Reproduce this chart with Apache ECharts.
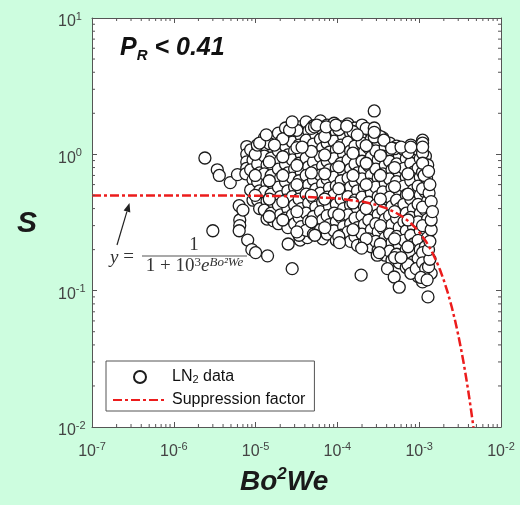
<!DOCTYPE html>
<html>
<head>
<meta charset="utf-8">
<script src="https://cdn.jsdelivr.net/npm/echarts@6/dist/echarts.min.js"></script>
<style>
  html, body { margin: 0; padding: 0; background: #cdfddf; }
  #chart { width: 520px; height: 505px; }
</style>
</head>
<body>
<div id="chart"></div>
<script>
// LN2 measurements: [Bo^2 We, S]
const ln2Points = [
  // sparse points on the low Bo²We side
  [2.4e-6,0.94],[3.0e-6,0.275],[3.4e-6,0.77],[3.6e-6,0.70],[4.9e-6,0.62],[6.0e-6,0.71],
  [6.3e-6,0.42],[6.4e-6,0.33],[6.4e-6,0.30],[6.3e-6,0.275],[7.0e-6,0.39],
  [7.8e-6,1.14],[7.8e-6,1.0],[7.8e-6,0.88],[7.8e-6,0.79],[7.6e-6,0.72],
  [8.0e-6,0.235],[9.0e-6,0.20],[1.0e-5,0.19],[1.4e-5,0.18],[2.8e-5,0.145],[2.5e-5,0.22],[3.5e-5,0.235],[4.3e-5,0.245],
  // main cloud
  [8.7e-6,1.08],[9.3e-6,0.91],[8.7e-6,0.77],[9.3e-6,0.65],[8.7e-6,0.547],[9.3e-6,0.461],
  [1.06e-5,1.15],[1.12e-5,0.99],[1.06e-5,0.85],[1.12e-5,0.73],[1.06e-5,0.63],[1.12e-5,0.54],[1.06e-5,0.46],[1.12e-5,0.40],
  [1.28e-5,1.32],[1.38e-5,1.12],[1.28e-5,0.97],[1.38e-5,0.835],[1.28e-5,0.72],[1.38e-5,0.61],[1.28e-5,0.53],[1.38e-5,0.455],[1.28e-5,0.39],[1.38e-5,0.335],
  [1.55e-5,1.27],[1.66e-5,1.10],[1.55e-5,0.94],[1.66e-5,0.81],[1.55e-5,0.70],[1.66e-5,0.595],[1.55e-5,0.51],[1.66e-5,0.44],[1.55e-5,0.37],[1.66e-5,0.325],
  [1.9e-5,1.43],[2.02e-5,1.23],[1.9e-5,1.06],[2.02e-5,0.91],[1.9e-5,0.78],[2.02e-5,0.67],[1.9e-5,0.575],[2.02e-5,0.49],[1.9e-5,0.424],[2.02e-5,0.36],[1.9e-5,0.31],
  [2.32e-5,1.56],[2.48e-5,1.35],[2.32e-5,1.15],[2.48e-5,0.99],[2.32e-5,0.85],[2.48e-5,0.73],[2.32e-5,0.63],[2.48e-5,0.54],[2.32e-5,0.461],[2.48e-5,0.40],[2.32e-5,0.34],[2.48e-5,0.29],
  [2.82e-5,1.67],[3.0e-5,1.43],[2.82e-5,1.23],[3.0e-5,1.06],[2.82e-5,0.91],[3.0e-5,0.78],[2.82e-5,0.67],[3.0e-5,0.575],[2.82e-5,0.49],[3.0e-5,0.424],[2.82e-5,0.36],[3.0e-5,0.31],
  [3.4e-5,1.59],[3.62e-5,1.36],[3.4e-5,1.17],[3.62e-5,1.0],[3.4e-5,0.86],[3.62e-5,0.74],[3.4e-5,0.64],[3.62e-5,0.547],[3.4e-5,0.47],[3.62e-5,0.40],[3.4e-5,0.345],[3.62e-5,0.295],[3.4e-5,0.255],
  [4.15e-5,1.73],[4.45e-5,1.48],[4.15e-5,1.27],[4.45e-5,1.10],[4.15e-5,0.94],[4.45e-5,0.81],[4.15e-5,0.70],[4.45e-5,0.595],[4.15e-5,0.51],[4.45e-5,0.44],[4.15e-5,0.37],[4.45e-5,0.325],[4.15e-5,0.277],
  [5.1e-5,1.62],[5.45e-5,1.39],[5.1e-5,1.19],[5.45e-5,1.02],[5.1e-5,0.88],[5.45e-5,0.76],[5.1e-5,0.65],[5.45e-5,0.555],[5.1e-5,0.475],[5.45e-5,0.41],[5.1e-5,0.35],[5.45e-5,0.30],[5.1e-5,0.26],
  [6.2e-5,1.76],[6.6e-5,1.51],[6.2e-5,1.29],[6.6e-5,1.11],[6.2e-5,0.96],[6.6e-5,0.82],[6.2e-5,0.705],[6.6e-5,0.605],[6.2e-5,0.52],[6.6e-5,0.445],[6.2e-5,0.38],[6.6e-5,0.33],[6.2e-5,0.28],[6.6e-5,0.24],
  [7.5e-5,1.64],[8.0e-5,1.41],[7.5e-5,1.21],[8.0e-5,1.04],[7.5e-5,0.89],[8.0e-5,0.77],[7.5e-5,0.66],[8.0e-5,0.565],[7.5e-5,0.485],[8.0e-5,0.415],[7.5e-5,0.355],[8.0e-5,0.305],[7.5e-5,0.26],
  [9.1e-5,1.69],[9.7e-5,1.46],[9.1e-5,1.25],[9.7e-5,1.08],[9.1e-5,0.93],[9.7e-5,0.79],[9.1e-5,0.68],[9.7e-5,0.585],[9.1e-5,0.503],[9.7e-5,0.43],[9.1e-5,0.37],[9.7e-5,0.32],[9.1e-5,0.275],[9.7e-5,0.234],
  [1.11e-4,1.59],[1.19e-4,1.36],[1.11e-4,1.17],[1.19e-4,1.0],[1.11e-4,0.86],[1.19e-4,0.74],[1.11e-4,0.64],[1.19e-4,0.547],[1.11e-4,0.47],[1.19e-4,0.40],[1.11e-4,0.345],[1.19e-4,0.295],[1.11e-4,0.255],
  [1.35e-4,1.67],[1.45e-4,1.43],[1.35e-4,1.23],[1.45e-4,1.06],[1.35e-4,0.91],[1.45e-4,0.78],[1.35e-4,0.67],[1.45e-4,0.575],[1.35e-4,0.49],[1.45e-4,0.424],[1.35e-4,0.36],[1.45e-4,0.31],[1.35e-4,0.27],[1.45e-4,0.23],
  [1.64e-4,1.56],[1.76e-4,1.35],[1.64e-4,1.15],[1.76e-4,0.99],[1.64e-4,0.85],[1.76e-4,0.73],[1.64e-4,0.63],[1.76e-4,0.54],[1.64e-4,0.461],[1.76e-4,0.40],[1.64e-4,0.34],[1.76e-4,0.29],[1.64e-4,0.25],[1.76e-4,0.215],
  [2.0e-4,1.64],[2.14e-4,1.41],[2.0e-4,1.21],[2.14e-4,1.04],[2.0e-4,0.89],[2.14e-4,0.77],[2.0e-4,0.66],[2.14e-4,0.565],[2.0e-4,0.485],[2.14e-4,0.415],[2.0e-4,0.355],[2.14e-4,0.305],[2.0e-4,0.26],[2.14e-4,0.225],
  [2.42e-4,1.51],[2.6e-4,1.29],[2.42e-4,1.11],[2.6e-4,0.96],[2.42e-4,0.82],[2.6e-4,0.705],[2.42e-4,0.605],[2.6e-4,0.52],[2.42e-4,0.445],[2.6e-4,0.38],[2.42e-4,0.33],[2.6e-4,0.28],[2.42e-4,0.24],[2.6e-4,0.21],
  [2.95e-4,1.43],[3.15e-4,1.23],[2.95e-4,1.06],[3.15e-4,0.91],[2.95e-4,0.78],[3.15e-4,0.67],[2.95e-4,0.575],[3.15e-4,0.49],[2.95e-4,0.424],[3.15e-4,0.36],[2.95e-4,0.31],[3.15e-4,0.27],[2.95e-4,0.23],[3.15e-4,0.198],
  [3.6e-4,1.32],[3.85e-4,1.12],[3.6e-4,0.97],[3.85e-4,0.835],[3.6e-4,0.72],[3.85e-4,0.61],[3.6e-4,0.53],[3.85e-4,0.455],[3.6e-4,0.39],[3.85e-4,0.335],[3.6e-4,0.285],[3.85e-4,0.245],[3.6e-4,0.21],[3.85e-4,0.182],
  [4.35e-4,1.21],[4.65e-4,1.04],[4.35e-4,0.89],[4.65e-4,0.77],[4.35e-4,0.66],[4.65e-4,0.565],[4.35e-4,0.485],[4.65e-4,0.415],[4.35e-4,0.355],[4.65e-4,0.305],[4.35e-4,0.26],[4.65e-4,0.225],[4.35e-4,0.195],[4.65e-4,0.167],
  [5.3e-4,1.15],[5.7e-4,0.99],[5.3e-4,0.85],[5.7e-4,0.73],[5.3e-4,0.63],[5.7e-4,0.54],[5.3e-4,0.461],[5.7e-4,0.40],[5.3e-4,0.34],[5.7e-4,0.29],[5.3e-4,0.25],[5.7e-4,0.215],[5.3e-4,0.185],[5.7e-4,0.16],
  [6.5e-4,1.08],[6.95e-4,0.93],[6.5e-4,0.79],[6.95e-4,0.68],[6.5e-4,0.585],[6.95e-4,0.503],[6.5e-4,0.43],[6.95e-4,0.37],[6.5e-4,0.32],[6.95e-4,0.275],[6.5e-4,0.234],[6.95e-4,0.20],[6.5e-4,0.172],[6.95e-4,0.148],
  [7.9e-4,1.17],[8.5e-4,1.0],[7.9e-4,0.86],[8.5e-4,0.74],[7.9e-4,0.64],[8.5e-4,0.547],[7.9e-4,0.47],[8.5e-4,0.40],[7.9e-4,0.345],[8.5e-4,0.295],[7.9e-4,0.255],[8.5e-4,0.22],[7.9e-4,0.19],[8.5e-4,0.163],[7.9e-4,0.139],
  [9.7e-4,1.08],[1.03e-3,0.93],[9.7e-4,0.79],[1.03e-3,0.68],[9.7e-4,0.585],[1.03e-3,0.503],[9.7e-4,0.43],[1.03e-3,0.37],[9.7e-4,0.32],[1.03e-3,0.275],[9.7e-4,0.234],[1.03e-3,0.20],[9.7e-4,0.172],[1.03e-3,0.148],[9.7e-4,0.127],
  [1.19e-3,0.97],[1.27e-3,0.835],[1.19e-3,0.72],[1.27e-3,0.61],[1.19e-3,0.53],[1.27e-3,0.455],[1.19e-3,0.39],[1.27e-3,0.335],[1.19e-3,0.285],[1.27e-3,0.245],[1.19e-3,0.21],[1.27e-3,0.182],[1.19e-3,0.157],[1.27e-3,0.134],
  // points lying between the columns above
  [9.9e-6,1.0],[9.9e-6,0.70],[9.9e-6,0.50],
  [1.47e-5,1.20],[1.47e-5,0.88],[1.47e-5,0.64],[1.47e-5,0.47],[1.47e-5,0.35],
  [2.15e-5,1.30],[2.15e-5,0.96],[2.15e-5,0.70],[2.15e-5,0.45],[2.15e-5,0.33],
  [3.2e-5,1.50],[3.2e-5,1.12],[3.2e-5,0.83],[3.2e-5,0.60],[3.2e-5,0.38],[3.2e-5,0.27],
  [4.8e-5,1.55],[4.8e-5,1.05],[4.8e-5,0.73],[4.8e-5,0.50],[4.8e-5,0.32],
  [7.0e-5,1.35],[7.0e-5,0.99],[7.0e-5,0.72],[7.0e-5,0.47],[7.0e-5,0.29],
  [1.04e-4,1.52],[1.04e-4,1.12],[1.04e-4,0.81],[1.04e-4,0.56],[1.04e-4,0.36],[1.04e-4,0.25],
  [1.55e-4,1.47],[1.55e-4,1.02],[1.55e-4,0.70],[1.55e-4,0.44],[1.55e-4,0.28],
  [2.25e-4,1.55],[2.25e-4,1.16],[2.25e-4,0.86],[2.25e-4,0.60],[2.25e-4,0.40],[2.25e-4,0.24],
  [3.35e-4,1.35],[3.35e-4,0.98],[3.35e-4,0.70],[3.35e-4,0.47],[3.35e-4,0.30],[3.35e-4,0.22],
  [5.0e-4,1.10],[5.0e-4,0.80],[5.0e-4,0.58],[5.0e-4,0.38],[5.0e-4,0.24],[5.0e-4,0.175],
  [7.3e-4,1.03],[7.3e-4,0.72],[7.3e-4,0.51],[7.3e-4,0.33],[7.3e-4,0.21],[7.3e-4,0.155],
  [1.1e-3,1.02],[1.1e-3,0.74],[1.1e-3,0.56],[1.1e-3,0.41],[1.1e-3,0.30],[1.1e-3,0.19],[1.1e-3,0.14],
  // upper and right edge
  [1.05e-5,1.17],[1.12e-5,1.21],[1.35e-5,1.39],[1.70e-5,1.17],[2.6e-5,1.51],[2.8e-5,1.73],[3.7e-5,1.13],[5.25e-5,1.59],
  [5.6e-5,1.64],[7.3e-5,1.59],[9.6e-5,1.64],[1.3e-4,1.61],[1.75e-4,1.39],[2.82e-4,1.56],[2.82e-4,1.34],[2.82e-4,1.45],
  [3.7e-4,1.27],[4.6e-4,1.11],[6.0e-4,1.13],[7.9e-4,1.13],[1.1e-3,1.27],[1.1e-3,1.21],[1.1e-3,1.13],[1.1e-3,0.86],
  [1.23e-3,0.67],[1.32e-3,0.52],[1.4e-3,0.45],[1.15e-3,0.70],[1.35e-3,0.60],[1.3e-3,0.75],[2.82e-4,2.08],
  // lower tail
  [1.95e-4,0.13],[3.07e-4,0.182],[4.1e-4,0.145],[4.95e-4,0.126],[5.7e-4,0.106],[7.9e-4,0.134],[9.2e-4,0.145],
  [1.1e-3,0.16],[1.1e-3,0.116],[1.28e-3,0.09],[1.4e-3,0.134],[6.0e-4,0.175],[5.3e-5,0.255],[1.06e-4,0.225],
  [1.98e-4,0.205],[3.25e-4,0.19],[1.2e-3,0.145],[1.05e-3,0.125],[1.25e-3,0.12],[1.3e-3,0.15],[1.35e-3,0.17],
  [1.3e-3,0.2],[1.35e-3,0.23],[1.4e-3,0.28],[1.4e-3,0.33],[1.45e-3,0.38]
];

// Suppression factor y = 1 / (1 + e^(1000·Bo²We)), tabulated
const supX = [1e-7, 1e-6, 1e-5, 3e-5, 1e-4, 2e-4, 3e-4, 4e-4, 5e-4, 6e-4, 7e-4, 8e-4, 9e-4, 1e-3,
              1.2e-3, 1.4e-3, 1.6e-3, 1.8e-3, 2.0e-3, 2.25e-3, 2.5e-3, 2.75e-3, 3.0e-3, 3.25e-3,
              3.5e-3, 3.75e-3, 4.0e-3, 4.25e-3, 4.5e-3, 4.6e-3];
const supY = [0.49998, 0.49975, 0.4975, 0.4925, 0.47502, 0.45017, 0.42556, 0.40131, 0.37754, 0.35434,
              0.33181, 0.31003, 0.28905, 0.26894, 0.23148, 0.19782, 0.16798, 0.14185, 0.11920, 0.09535,
              0.07586, 0.06009, 0.04743, 0.03733, 0.02931, 0.02298, 0.01799, 0.01406, 0.01099, 0.00995];

// axis ranges and minor-tick mantissas
const xDecades = [-7, -6, -5, -4, -3];
const yDecades = [-2, -1, 0];
const minorMantissas = [2, 3, 4, 5, 6, 7, 8, 9];

const FONT = 'Liberation Sans, Arial, sans-serif';
const SERIF = 'Liberation Serif, DejaVu Serif, serif';
const AXIS_GREY = '#555';
const LABEL_GREY = '#444';
const RED = '#ec1c1c';

const xMinor = [];
xDecades.forEach(d => minorMantissas.forEach(m => xMinor.push([m * Math.pow(10, d), 1e-2])));
const yMinor = [];
yDecades.forEach(d => minorMantissas.forEach(m => yMinor.push([1e-7, m * Math.pow(10, d)])));

const powLabel = v => '{b|10}{s|' + Math.round(Math.log10(v)) + '}';
const labelRich = {
  b: { fontSize: 16, color: LABEL_GREY, fontFamily: FONT, lineHeight: 22 },
  s: { fontSize: 11, color: LABEL_GREY, fontFamily: FONT, lineHeight: 8, verticalAlign: 'top' }
};

const axisCommon = {
  type: 'log', logBase: 10,
  axisLine: { show: true, onZero: false, lineStyle: { color: AXIS_GREY, width: 1 } },
  axisTick: { show: true, inside: true, length: 5, lineStyle: { color: AXIS_GREY, width: 1 } },
  splitLine: { show: false },
  minorTick: { show: false }
};

const chart = echarts.init(document.getElementById('chart'), null, { renderer: 'canvas' });

function minorTickRenderer(horizontal) {
  return function (params, api) {
    const v = api.value(horizontal ? 0 : 1);
    const L = 3;
    if (horizontal) {
      const b = api.coord([v, 1e-2]);
      const t = api.coord([v, 1e1]);
      return { type: 'group', children: [
        { type: 'line', shape: { x1: b[0], y1: b[1], x2: b[0], y2: b[1] - L }, style: { stroke: AXIS_GREY, lineWidth: 1 } },
        { type: 'line', shape: { x1: t[0], y1: t[1], x2: t[0], y2: t[1] + L }, style: { stroke: AXIS_GREY, lineWidth: 1 } }
      ] };
    }
    const l = api.coord([1e-7, v]);
    const r = api.coord([1e-2, v]);
    return { type: 'group', children: [
      { type: 'line', shape: { x1: l[0], y1: l[1], x2: l[0] + L, y2: l[1] }, style: { stroke: AXIS_GREY, lineWidth: 1 } },
      { type: 'line', shape: { x1: r[0], y1: r[1], x2: r[0] - L, y2: r[1] }, style: { stroke: AXIS_GREY, lineWidth: 1 } }
    ] };
  };
}

const option = {
  backgroundColor: '#cdfddf',
  animation: false,
  grid: { left: 92, right: 19, top: 18, bottom: 78, show: true, backgroundColor: '#ffffff', borderWidth: 0 },
  xAxis: [
    Object.assign({}, axisCommon, {
      min: 1e-7, max: 1e-2, position: 'bottom', splitNumber: 5,
      axisLabel: { margin: 14, formatter: powLabel, rich: labelRich }
    }),
    Object.assign({}, axisCommon, {
      min: 1e-7, max: 1e-2, position: 'top', splitNumber: 5,
      axisLabel: { show: false }
    })
  ],
  yAxis: [
    Object.assign({}, axisCommon, {
      min: 1e-2, max: 1e1, position: 'left', splitNumber: 3,
      axisLabel: { margin: 34, align: 'left', padding: [8, 0, 0, 0], formatter: powLabel, rich: labelRich }
    }),
    Object.assign({}, axisCommon, {
      min: 1e-2, max: 1e1, position: 'right', splitNumber: 3,
      axisLabel: { show: false }
    })
  ],
  legend: {
    orient: 'vertical', left: 106, top: 361,
    padding: [8, 9, 3, 6], itemGap: 7, itemWidth: 54, itemHeight: 12,
    backgroundColor: '#ffffff', borderColor: AXIS_GREY, borderWidth: 1, borderRadius: 0,
    selectedMode: false,
    data: [
      { name: 'LN2 data' },
      { name: 'Suppression factor', itemStyle: { opacity: 0 } }
    ],
    formatter: name => name === 'LN2 data' ? 'LN{sub|2} data' : name,
    textStyle: {
      fontSize: 16, color: '#111', fontFamily: FONT, lineHeight: 16,
      rich: { sub: { fontSize: 11, color: '#111', fontFamily: FONT, lineHeight: 8, verticalAlign: 'bottom' } }
    }
  },
  series: [
    {
      name: 'LN2 data', type: 'scatter', xAxisIndex: 0, yAxisIndex: 0,
      data: ln2Points, symbol: 'circle', symbolSize: 12,
      itemStyle: { color: '#ffffff', borderColor: '#1c1c1c', borderWidth: 1.3, opacity: 1 },
      emphasis: { disabled: true }, silent: true, progressive: 0, large: false, z: 2
    },
    {
      name: 'Suppression factor', type: 'line', xAxisIndex: 0, yAxisIndex: 0,
      data: supX.map((x, i) => [x, supY[i]]), symbol: 'none', showSymbol: false, smooth: false,
      lineStyle: { color: RED, width: 2.5, type: [9, 3, 3, 3] },
      itemStyle: { color: RED },
      emphasis: { disabled: true }, silent: true, z: 3
    },
    {
      type: 'custom', xAxisIndex: 0, yAxisIndex: 0, data: xMinor, silent: true, z: 4, clip: false,
      renderItem: minorTickRenderer(true)
    },
    {
      type: 'custom', xAxisIndex: 0, yAxisIndex: 0, data: yMinor, silent: true, z: 4, clip: false,
      renderItem: minorTickRenderer(false)
    }
  ],
  graphic: [
    // axis titles
    { type: 'text', left: 17, top: 209, style: { text: 'S', font: 'italic bold 30px ' + FONT, fill: '#1a1a1a' } },
    { type: 'text', left: 240, top: 466, style: {
      text: '{n|Bo}{p|2}{n|We}',
      rich: {
        n: { font: 'italic bold 28px ' + FONT, fill: '#1a1a1a', lineHeight: 32 },
        p: { font: 'italic bold 17px ' + FONT, fill: '#1a1a1a', lineHeight: 16, verticalAlign: 'top' }
      } } },
    // condition label
    { type: 'text', left: 120, top: 36, style: {
      text: '{p|P}{r|R}{p| < 0.41}',
      rich: {
        p: { font: 'italic bold 25px ' + FONT, fill: '#111', lineHeight: 30 },
        r: { font: 'italic bold 15px ' + FONT, fill: '#111', lineHeight: 14, verticalAlign: 'bottom' }
      } } },
    // equation annotation
    { type: 'text', left: 110, top: 248, style: {
      text: '{i|y} =', font: '19px ' + SERIF, fill: '#333',
      rich: { i: { font: 'italic 19px ' + SERIF, fill: '#333' } } } },
    { type: 'text', x: 194, y: 245, style: { text: '1', font: '19px ' + SERIF, fill: '#333', align: 'center', verticalAlign: 'middle' } },
    { type: 'line', shape: { x1: 142, y1: 256, x2: 247, y2: 256 }, style: { stroke: '#555', lineWidth: 1.2 } },
    { type: 'text', x: 194.5, y: 266, style: {
      text: '{r|1 + 10}{s|3}{i|e}{si|Bo²We}', align: 'center', verticalAlign: 'middle',
      rich: {
        r: { font: '19px ' + SERIF, fill: '#333', lineHeight: 20 },
        s: { font: '13px ' + SERIF, fill: '#333', lineHeight: 10, verticalAlign: 'top' },
        i: { font: 'italic 19px ' + SERIF, fill: '#333', lineHeight: 20 },
        si: { font: 'italic 13px ' + SERIF, fill: '#333', lineHeight: 10, verticalAlign: 'top' }
      } } },
    // arrow pointing at the curve
    { type: 'line', shape: { x1: 117, y1: 245, x2: 126.9, y2: 211.6 }, style: { stroke: '#222', lineWidth: 1.2 } },
    { type: 'polygon', shape: { points: [[129.5, 203], [130.3, 212.6], [123.6, 210.6]] }, style: { fill: '#222' } }
  ]
};

chart.setOption(option);
</script>
</body>
</html>
